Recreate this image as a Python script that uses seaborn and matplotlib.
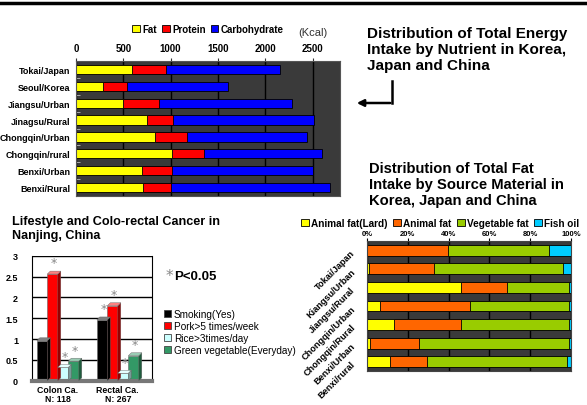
import numpy as np
import pandas as pd
import matplotlib
matplotlib.use("Agg")
from matplotlib import pyplot as plt
from matplotlib.patches import Patch, Polygon, FancyArrowPatch
from matplotlib.lines import Line2D
from matplotlib.colors import to_rgb
import seaborn as sns

plt.rcParams['font.family'] = ['Liberation Sans', 'DejaVu Sans']

# ---- energy intake by nutrient (Kcal)
regions_energy = ["Tokai/Japan", "Seoul/Korea", "Jiangsu/Urban", "Jinagsu/Rural",
                  "Chongqin/Urban", "Chongqin/rural", "Benxi/Urban", "Benxi/Rural"]
fat_kcal = [588, 289, 500, 746, 831, 1014, 694, 704]
protein_kcal = [359, 253, 377, 282, 345, 342, 324, 300]
carb_kcal = [1208, 1060, 1408, 1490, 1261, 1246, 1489, 1683]
energy_ticks = [0, 500, 1000, 1500, 2000, 2500]

# ---- fat intake by source (%)
regions_fat = ["Tokai/Japan", "Kiangsu/Urban", "Jiangsu/Rural", "Chongqin/Urban",
               "Chongqin/Rural", "Benxi/Urban", "Benxi/rural"]
lard_pct = [0.0, 0.8, 45.9, 6.2, 13.4, 1.6, 11.1]
animal_pct = [39.8, 32.2, 22.6, 44.3, 32.5, 24.0, 18.4]
veg_pct = [49.4, 63.0, 30.5, 48.5, 53.1, 73.4, 68.5]
fish_pct = [10.8, 4.0, 1.0, 1.0, 1.0, 1.0, 2.0]
pct_ticks = [0, 20, 40, 60, 80, 100]
pct_labels = ["0%", "20%", "40%", "60%", "80%", "100%"]

# ---- lifestyle and colo-rectal cancer (odds ratio)
groups = ["Colon Ca.\nN: 118", "Rectal Ca.\nN: 267"]
factors = ["Smoking(Yes)", "Pork>5 times/week", "Rice>3times/day", "Green vegetable(Everyday)"]
or_colon = [0.96, 2.56, 0.32, 0.47]
or_rectal = [1.46, 1.80, 0.18, 0.60]
signif_colon = [False, True, True, True]
signif_rectal = [True, True, True, True]
or_ticks = [0, 0.5, 1, 1.5, 2, 2.5, 3]
or_labels = ["0", "0.5", "1", "1.5", "2", "2.5", "3"]

W, H = 587, 406
fig = plt.figure(figsize=(W / 100, H / 100), dpi=100)
fig.patch.set_facecolor("white")


def px_axes(left, top, right, bottom):
    return fig.add_axes([left / W, 1 - bottom / H, (right - left) / W, (bottom - top) / H])


def bold(ax):
    for t in ax.get_xticklabels() + ax.get_yticklabels():
        t.set_fontweight("bold")


# top border line
fig.add_artist(Line2D([0, 1], [1 - 4 / H, 1 - 4 / H], color="black", lw=2.5))

# ================= top chart =================
ax1 = px_axes(76, 62, 340, 197)
energy = pd.DataFrame({"region": regions_energy, "Fat": fat_kcal,
                       "Protein": protein_kcal, "Carbohydrate": carb_kcal})
nutr_cols = ["Fat", "Protein", "Carbohydrate"]
nutr_colors = {"Fat": "#ffff00", "Protein": "#ff0000", "Carbohydrate": "#0000ff"}
cum = energy[nutr_cols].cumsum(axis=1)
for col in reversed(nutr_cols):
    sns.barplot(x=cum[col], y=energy["region"], orient="y", color=nutr_colors[col],
                saturation=1, width=0.55, edgecolor="black", linewidth=0.6, ax=ax1)
ax1.set_facecolor("#3a3a3a")
ax1.set_xlim(0, 2790)
ax1.set_xticks(energy_ticks)
ax1.xaxis.tick_top()
ax1.tick_params(axis="x", labelsize=7, length=2, pad=4, color="#333333")
ax1.tick_params(axis="y", labelsize=6.5, length=0, pad=4)
ax1.set_yticks(np.arange(len(regions_energy)) + 0.5, minor=True)
ax1.tick_params(axis="y", which="minor", length=3, direction="in", color="#bbbbbb")
ax1.grid(axis="x", color="black", lw=1)
ax1.set_axisbelow(True)
ax1.set_xlabel("")
ax1.set_ylabel("")
for s in ax1.spines.values():
    s.set_color("#555555")
bold(ax1)
fig.legend(handles=[Patch(facecolor=nutr_colors[c], edgecolor="black", lw=0.6, label=c)
                    for c in nutr_cols],
           loc="center", bbox_to_anchor=(208 / W, 1 - 30 / H), ncol=3, frameon=False,
           handlelength=0.8, handleheight=0.8, handletextpad=0.25, columnspacing=0.5,
           prop={"size": 7, "weight": "bold"})
fig.text(313 / W, 1 - 33 / H, "(Kcal)", fontsize=8, ha="center", va="center", color="#333333")

fig.text(367 / W, 1 - 50 / H,
         "Distribution of Total Energy\nIntake by Nutrient in Korea,\nJapan and China",
         fontsize=11, fontweight="bold", ha="left", va="center", linespacing=1.15)
# arrow
fig.add_artist(Line2D([392 / W, 392 / W], [1 - 82 / H, 1 - 104 / H], color="black", lw=1.8))
fig.add_artist(FancyArrowPatch((393 / W, 1 - 104 / H), (354 / W, 1 - 104 / H),
                               transform=fig.transFigure, arrowstyle="-|>",
                               mutation_scale=10, lw=1.8, color="black"))

# ================= bottom-right chart =================
fig.text(369 / W, 1 - 185 / H,
         "Distribution of Total Fat\nIntake by Source Material in\nKorea, Japan and China",
         fontsize=10.6, fontweight="bold", ha="left", va="center", linespacing=1.15)
ax3 = px_axes(367, 242, 571, 372)
fat = pd.DataFrame({"region": regions_fat, "Animal fat(Lard)": lard_pct, "Animal fat": animal_pct,
                    "Vegetable fat": veg_pct, "Fish oil": fish_pct})
src_cols = ["Animal fat(Lard)", "Animal fat", "Vegetable fat", "Fish oil"]
src_colors = {"Animal fat(Lard)": "#ffff00", "Animal fat": "#ff6600",
              "Vegetable fat": "#99cc00", "Fish oil": "#00ccff"}
cum3 = fat[src_cols].cumsum(axis=1)
for col in reversed(src_cols):
    sns.barplot(x=cum3[col], y=fat["region"], orient="y", color=src_colors[col],
                saturation=1, width=0.58, edgecolor="black", linewidth=0.6, ax=ax3)
ax3.set_facecolor("#3a3a3a")
ax3.set_xlim(0, 100)
ax3.set_xticks(pct_ticks)
ax3.set_xticklabels(pct_labels)
ax3.xaxis.tick_top()
ax3.tick_params(axis="x", labelsize=5.5, length=2, pad=1)
ax3.tick_params(axis="y", labelsize=6.6, length=0, pad=10)
for t in ax3.get_yticklabels():
    t.set_rotation(45)
    t.set_ha("right")
    t.set_rotation_mode("anchor")
ax3.grid(axis="x", color="black", lw=1)
ax3.set_axisbelow(True)
ax3.set_xlabel("")
ax3.set_ylabel("")
for s in ax3.spines.values():
    s.set_color("#444444")
bold(ax3)
fig.legend(handles=[Patch(facecolor=src_colors[c], edgecolor="black", lw=0.6, label=c)
                    for c in src_cols],
           loc="center", bbox_to_anchor=(440 / W, 1 - 224 / H), ncol=4, frameon=False,
           handlelength=0.8, handleheight=0.8, handletextpad=0.25, columnspacing=0.5,
           prop={"size": 7.2, "weight": "bold"})

# ================= bottom-left chart =================
fig.text(12 / W, 1 - 229 / H, "Lifestyle and Colo-rectal Cancer in\nNanjing, China",
         fontsize=9.1, fontweight="bold", ha="left", va="center", linespacing=1.25)
ax2 = px_axes(32, 256.7, 152, 381.7)
odds = pd.DataFrame({"group": np.repeat(groups, len(factors)),
                     "factor": factors * len(groups),
                     "value": or_colon + or_rectal})
fac_colors = {"Smoking(Yes)": "#000000", "Pork>5 times/week": "#ff0000",
              "Rice>3times/day": "#ccffff", "Green vegetable(Everyday)": "#339966"}
sns.barplot(data=odds, x="group", y="value", hue="factor", hue_order=factors,
            palette=fac_colors, saturation=1, width=0.7, edgecolor="#666666",
            linewidth=0.4, legend=False, ax=ax2)
ax2.set_xlim(-0.43, 1.57)
ax2.set_ylim(0, 3)
dx, dy = 0.05, 0.07
signif = [signif_colon, signif_rectal]
for k, cont in enumerate(ax2.containers):
    base = np.array(to_rgb(fac_colors[factors[k]]))
    side = base * 0.6
    top = np.clip(base + (1 - base) * 0.5, 0, 1)
    for g, bar in enumerate(cont):
        x, w, h = bar.get_x(), bar.get_width(), bar.get_height()
        ax2.add_patch(Polygon([(x + w, 0), (x + w + dx, dy), (x + w + dx, h + dy), (x + w, h)],
                              closed=True, facecolor=side, edgecolor="#666666", lw=0.3, zorder=3))
        ax2.add_patch(Polygon([(x, h), (x + dx, h + dy), (x + w + dx, h + dy), (x + w, h)],
                              closed=True, facecolor=top, edgecolor="#666666", lw=0.3, zorder=3))
        if signif[g][k]:
            ax2.text(x + w / 2 + dx / 2, h + dy + 0.04, "*", ha="center", va="bottom",
                     fontsize=9, color="#888888", family="DejaVu Sans")
ax2.set_yticks(or_ticks)
ax2.set_yticklabels(or_labels)
ax2.grid(axis="y", color="black", lw=1)
ax2.set_axisbelow(True)
ax2.tick_params(axis="y", labelsize=6.5, length=0, pad=10)
ax2.tick_params(axis="x", labelsize=6.3, length=0, pad=3)
for t in ax2.get_xticklabels():
    t.set_linespacing(1.0)
ax2.set_xlabel("")
ax2.set_ylabel("")
ax2.spines["top"].set_visible(False)
ax2.spines["bottom"].set_color("#777777")
ax2.spines["bottom"].set_linewidth(3)
bold(ax2)
fig.legend(handles=[Patch(facecolor=fac_colors[f], edgecolor="#444444", lw=0.6, label=f)
                    for f in factors],
           loc="upper left", bbox_to_anchor=(155 / W, 1 - 301 / H), frameon=False,
           handlelength=0.7, handleheight=0.7, handletextpad=0.3, labelspacing=0.2,
           prop={"size": 7.2})
fig.text(166 / W, 1 - 277 / H, "*", fontsize=11, color="#888888", ha="left", va="center",
         family="DejaVu Sans")
fig.text(174 / W, 1 - 277 / H, "P<0.05", fontsize=9.5, fontweight="bold", ha="left", va="center")

fig.savefig("out.png", dpi=100)
